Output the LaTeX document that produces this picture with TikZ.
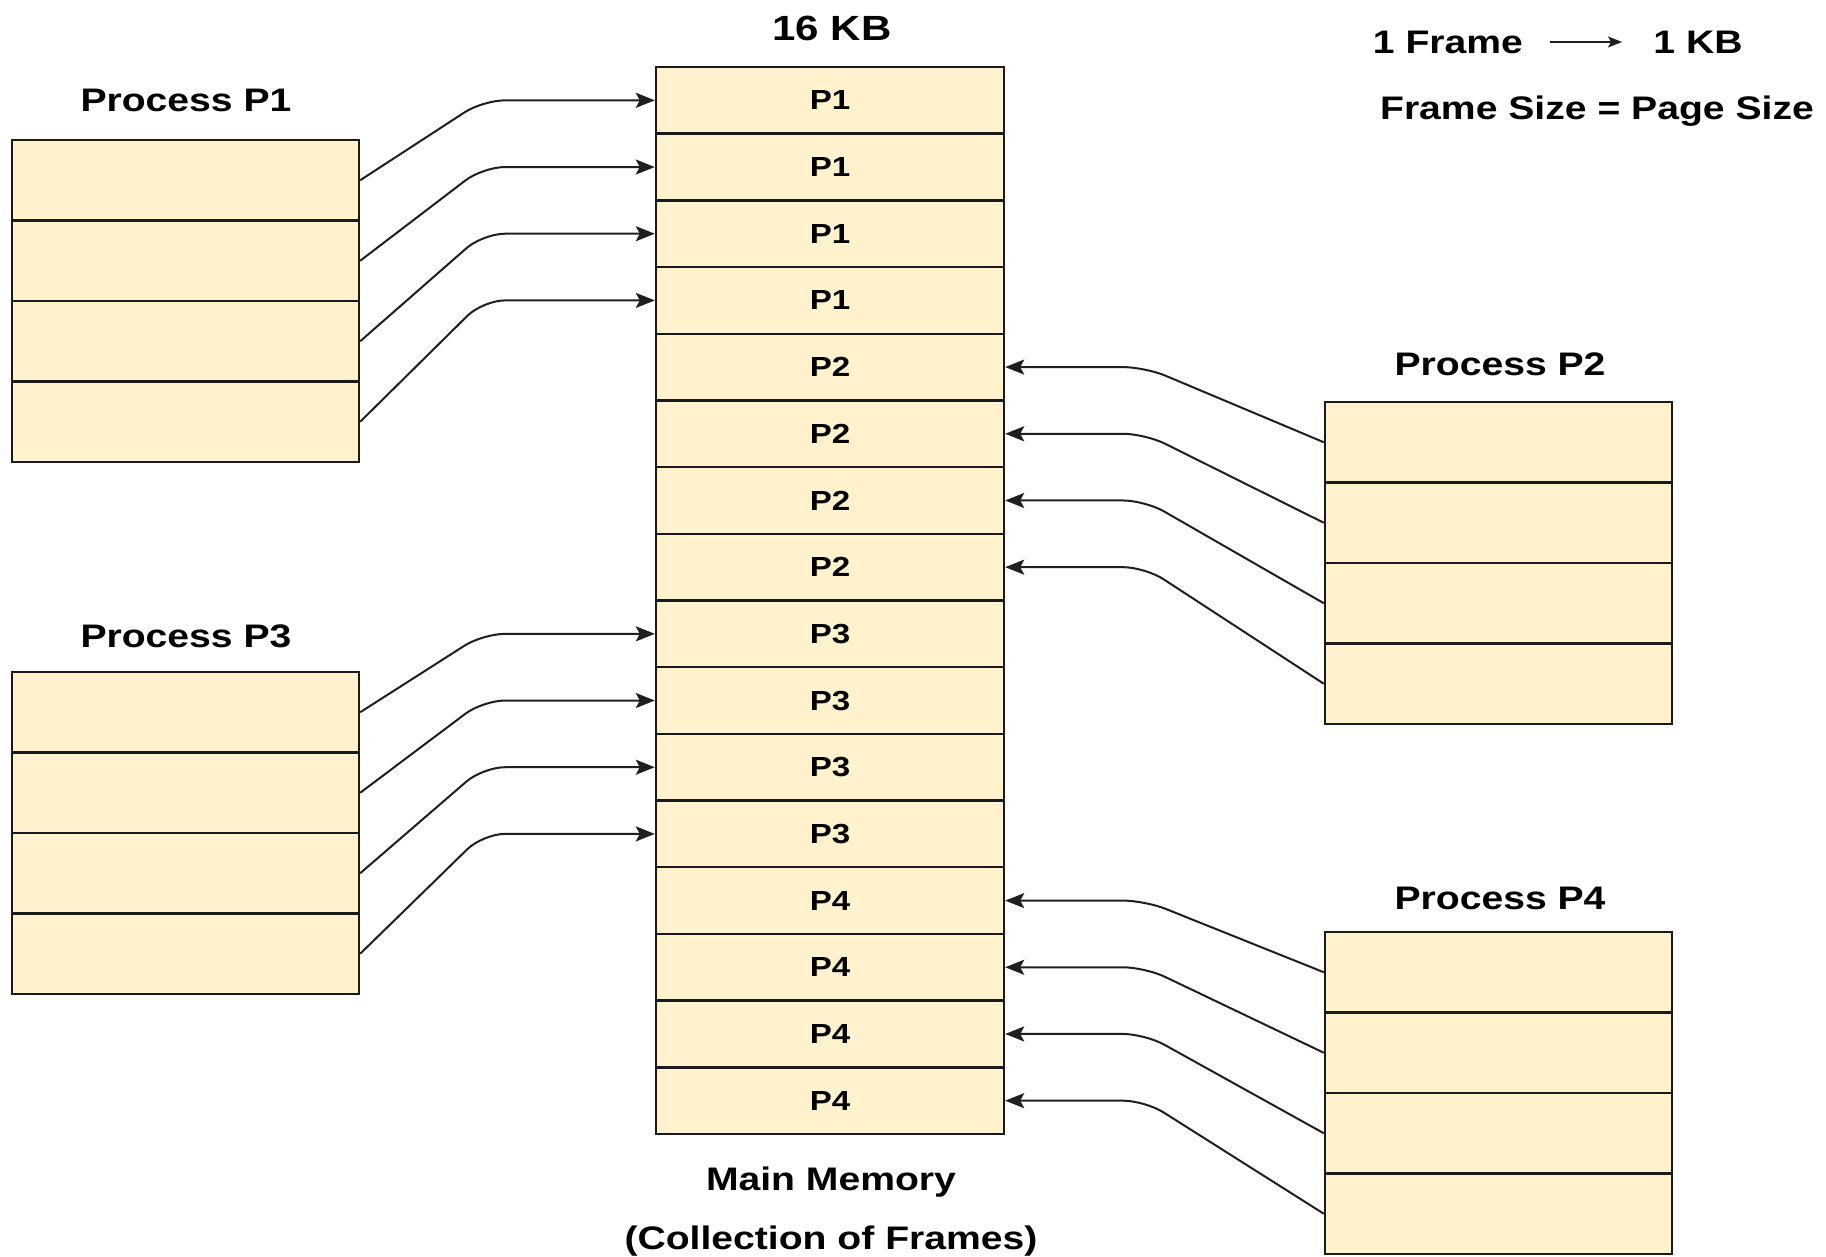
\documentclass[tikz,border=0pt]{standalone}
\usepackage{fontspec}
\setmainfont{Liberation Sans}[FakeStretch=1.2]
\usetikzlibrary{arrows.meta}
\definecolor{cellfill}{HTML}{FFF2CC}
\definecolor{edge}{HTML}{1A1A1A}
\definecolor{wire}{HTML}{1F1F1F}
\begin{document}
\begin{tikzpicture}[x=0.5pt,y=-0.5pt,
  memcell/.style={draw=edge, line width=1.2pt, fill=cellfill, minimum width=174pt, minimum height=33.34pt, inner sep=0pt,
    font=\bfseries\fontsize{13.8}{15}\selectfont},
  proccell/.style={draw=edge, line width=1.2pt, fill=cellfill, minimum width=173.5pt, minimum height=40.25pt, inner sep=0pt},
  lbl/.style={font=\bfseries\fontsize{16.3}{19}\selectfont, text=black, inner sep=0pt},
  conn/.style={draw=wire, line width=1pt, rounded corners=11pt, -{Stealth[length=9.5pt,width=7.5pt,inset=2pt]}},
  legarrow/.style={draw=wire, line width=0.9pt, -{Stealth[length=7pt,width=5.5pt,inset=1.5pt]}}
]
\fill[white] (0,0) rectangle (1826,1257);
\useasboundingbox (0,0) rectangle (1826,1257);

% main memory
\foreach \i/\t in {1/P1,2/P1,3/P1,4/P1,5/P2,6/P2,7/P2,8/P2,9/P3,10/P3,11/P3,12/P3,13/P4,14/P4,15/P4,16/P4}{
  \node[memcell] (m\i) at (830, {67+66.6875*(\i-0.5)}) {\t};
}

% process boxes
\foreach \i in {1,2,3,4}{
  \node[proccell] (a\i) at (185.5, {140+80.5*(\i-0.5)}) {};
  \node[proccell] (b\i) at (1498.5, {402+80.5*(\i-0.5)}) {};
  \node[proccell] (c\i) at (185.5, {672+80.5*(\i-0.5)}) {};
  \node[proccell] (d\i) at (1498.5, {932+80.5*(\i-0.5)}) {};
}

% labels
\node[lbl, font=\bfseries\fontsize{17.5}{20}\selectfont] (title) at (832, 28) {16 KB};
\node[lbl] (lp1) at (186, 100) {Process P1};
\node[lbl] (lp2) at (1500, 364) {Process P2};
\node[lbl] (lp3) at (186, 636) {Process P3};
\node[lbl] (lp4) at (1500, 898) {Process P4};
\node[lbl] (mm) at (831, 1182) {Main Memory};
\node[lbl] (cf) at (831, 1241) {(Collection of Frames)};
\node[lbl] (frm) at (1448, 42) {1 Frame};
\node[lbl] (kb) at (1698, 42) {1 KB};
\node[lbl] (fs) at (1597, 111) {Frame Size = Page Size};
\draw[legarrow, shorten <=13.5pt, shorten >=15.5pt] (frm) -- (kb);

% connector bend positions
\coordinate (lx) at (483,0);
\coordinate (rx) at (1145,0);

\foreach \i/\m in {1/1,2/2,3/3,4/4}{
  \draw[conn] (a\i.east) -- (lx |- m\m.west) -- (m\m.west);
}
\foreach \i/\m in {1/9,2/10,3/11,4/12}{
  \draw[conn] (c\i.east) -- (lx |- m\m.west) -- (m\m.west);
}
\foreach \i/\m in {1/5,2/6,3/7,4/8}{
  \draw[conn] (b\i.west) -- (rx |- m\m.east) -- (m\m.east);
}
\foreach \i/\m in {1/13,2/14,3/15,4/16}{
  \draw[conn] (d\i.west) -- (rx |- m\m.east) -- (m\m.east);
}
\end{tikzpicture}
\end{document}
